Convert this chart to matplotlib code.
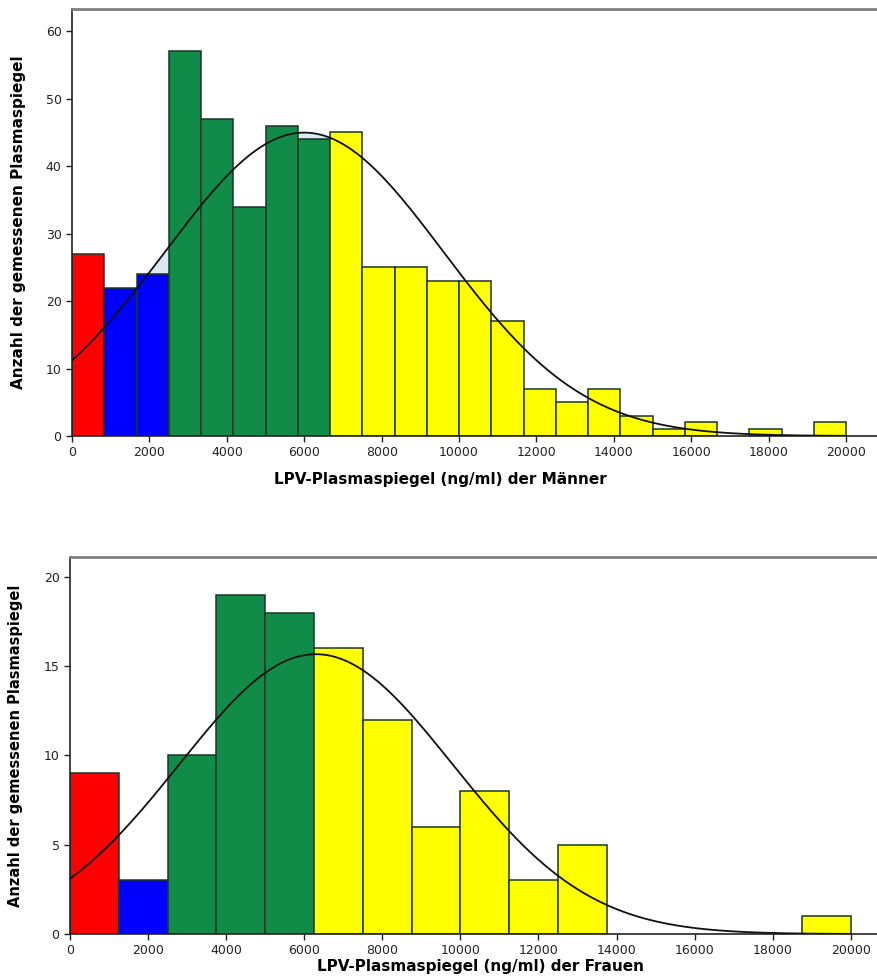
import matplotlib
matplotlib.use('Agg')
import matplotlib.pyplot as plt
import numpy as np

# ============================================================
# DATEN
# ============================================================
# Männer: 24 Klassen à 833.3 ng/ml von 0 bis 20000
m_counts = [27, 22, 24, 57, 47, 34, 46, 44, 45, 25, 25, 23,
            23, 17, 7, 5, 7, 3, 1, 2, 0, 1, 0, 2]
m_colors = ['red'] * 1 + ['blue'] * 2 + ['green'] * 5 + ['yellow'] * 16
m_mean, m_sd = 6000, 3600

# Frauen: 16 Klassen à 1250 ng/ml von 0 bis 20000
f_counts = [9, 3, 10, 19, 18, 16, 12, 6, 8, 3, 5, 0, 0, 0, 0, 1]
f_colors = ['red'] * 1 + ['blue'] * 1 + ['green'] * 3 + ['yellow'] * 11
f_mean, f_sd = 6300, 3500

x_ticks = [0, 2000, 4000, 6000, 8000, 10000, 12000, 14000, 16000, 18000, 20000]

PALETTE = {'red': '#FF0000', 'blue': '#0000FF', 'green': '#118C48', 'yellow': '#FFFF00'}
EDGE = '#1c3526'

fig = plt.figure(figsize=(8.77, 9.76), dpi=100)


def histogramm(ax, counts, colors, mean, sd, xmax, ymax, yticks, xlabel,
               fill_bins=(), xl_size=12, yl_size=11):
    counts = np.array(counts)
    width = 20000 / len(counts)
    lefts = np.arange(len(counts)) * width
    n = counts.sum()

    xs = np.linspace(0, 20000, 600)
    curve = n * width / (sd * np.sqrt(2 * np.pi)) * np.exp(-(xs - mean) ** 2 / (2 * sd ** 2))

    # hellblaue Flaechen (SPSS-Artefakt) zwischen Kurve und Balken
    for i in fill_bins:
        sel = (xs >= lefts[i]) & (xs <= lefts[i] + width)
        ax.fill_between(xs[sel], counts[i], curve[sel], where=curve[sel] > counts[i],
                        color='#dde8f5', zorder=1, lw=0)

    for left, c, col in zip(lefts, counts, colors):
        if c == 0:
            continue
        ax.bar(left, c, width=width, align='edge', color=PALETTE[col],
               edgecolor=EDGE, linewidth=1.1, zorder=2)

    ax.plot(xs, curve, color='#111111', linewidth=1.3, zorder=3)

    ax.set_xlim(0, xmax)
    ax.set_ylim(0, ymax)
    ax.set_xticks(x_ticks)
    ax.set_yticks(yticks)
    ax.tick_params(axis='both', labelsize=9, length=4, width=1, direction='out',
                   colors='#222222')
    ax.spines['right'].set_visible(False)
    ax.spines['top'].set_color('#808080')
    ax.spines['top'].set_linewidth(2)
    for s in ('left', 'bottom'):
        ax.spines[s].set_color('#222222')
        ax.spines[s].set_linewidth(1.2)

    ax.set_xlabel(xlabel, fontsize=xl_size, fontweight='bold', labelpad=9)
    ax.set_ylabel('Anzahl der gemessenen Plasmaspiegel', fontsize=yl_size,
                  fontweight='bold', labelpad=14)


ax1 = fig.add_axes([0.0821, 0.5533, 0.918, 0.4375])
histogramm(ax1, m_counts, m_colors, m_mean, m_sd, 20800, 63.3,
           [0, 10, 20, 30, 40, 50, 60], 'LPV-Plasmaspiegel (ng/ml) der Männer',
           fill_bins=(2, 7), xl_size=11, yl_size=11)
ax1.xaxis.set_label_coords(0.458, -0.085)

ax2 = fig.add_axes([0.0798, 0.043, 0.920, 0.386])
histogramm(ax2, f_counts, f_colors, f_mean, f_sd, 20666, 21.1,
           [0, 5, 10, 15, 20], 'LPV-Plasmaspiegel (ng/ml) der Frauen',
           xl_size=11, yl_size=10.5)
ax2.xaxis.set_label_coords(0.509, -0.066)
ax2.yaxis.labelpad = 15

plt.savefig('out.png', dpi=100)
